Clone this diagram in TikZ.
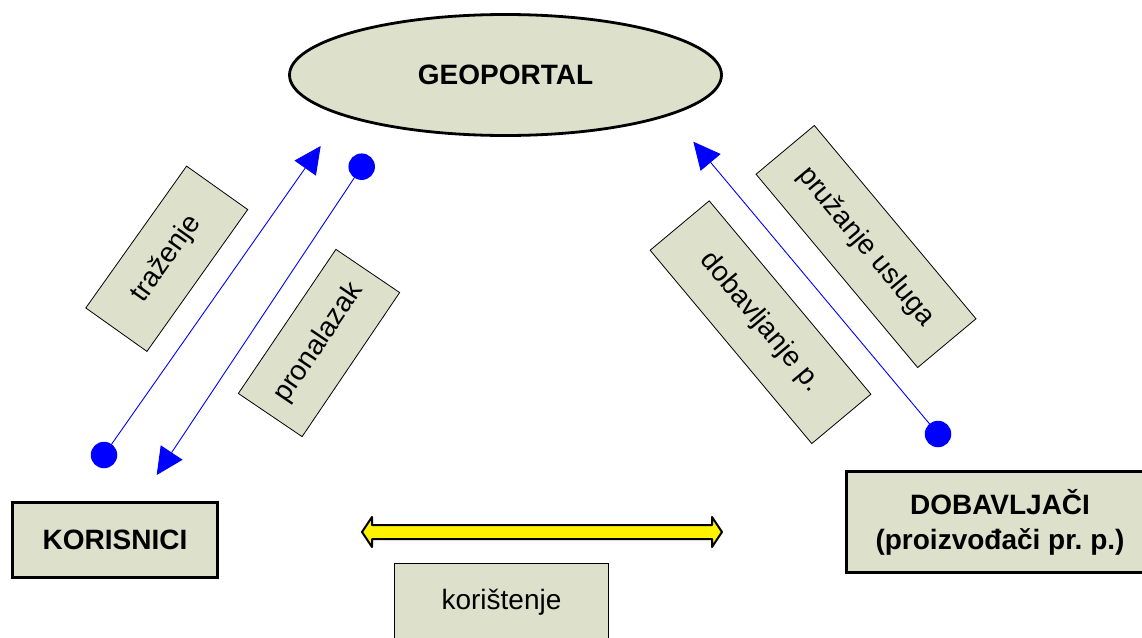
\documentclass[tikz,border=0pt]{standalone}
\usepackage{fontspec}
\setmainfont{Liberation Sans}
\usetikzlibrary{shapes.geometric,arrows.meta}
\definecolor{boxfill}{RGB}{221,224,203}
\frenchspacing
\begin{document}
\begin{tikzpicture}[x=1pt,y=-1pt,
  every node/.style={inner sep=0pt, outer sep=0pt},
  bigtxt/.style={font=\fontsize{28}{35}\selectfont\bfseries},
  lbltxt/.style={font=\fontsize{28}{34}\selectfont},
  mainbox/.style={draw=black, fill=boxfill, line width=2.8pt, bigtxt},
  tagbox/.style={draw=black, fill=boxfill, line width=0.8pt, lbltxt},
  flow/.style={draw=blue, line width=0.9pt, -{Triangle[length=27pt,width=26pt]}},
  dot/.style={circle, fill=blue, minimum size=26.5pt},
  usearrow/.style={draw=black, fill=yellow, line width=2pt, line join=round},
]
\clip (0,0) rectangle (1142,637);

% main actors
\node[mainbox, ellipse, minimum width=432pt, minimum height=121pt] (geo) at (505.5,75) {GEOPORTAL};
\node[mainbox, minimum width=205pt, minimum height=75pt] (kor) at (115,540) {KORISNICI};
\node[mainbox, minimum width=307pt, minimum height=101pt, align=center] (dob) at (1000,522) {DOBAVLJAČI\\(proizvođači pr. p.)};

% activity labels
\node[tagbox, rotate=54.6, minimum width=174pt, minimum height=75pt] (trz) at (166.75,258.75) {traženje};
\node[tagbox, rotate=55.9, minimum width=174pt, minimum height=77pt] (pro) at (319,343) {pronalazak};
\node[tagbox, rotate=-50.1, minimum width=252pt, minimum height=76pt] (pru) at (866,246.5) {pružanje usluga};
\node[tagbox, rotate=-50.1, minimum width=252pt, minimum height=77pt] (dbp) at (760.5,322.2) {dobavljanje p.};
\node[tagbox, minimum width=214pt, minimum height=77pt] (kori) at (501.5,602) {korištenje};

% search: users -> geoportal
\node[dot] (s1) at (104,455) {};
\coordinate (e1) at (320.7,146);
\draw[flow] (s1.center) -- (e1);

% discovery: geoportal -> users
\node[dot] (s2) at (361.7,166.7) {};
\coordinate (e2) at (156.7,475);
\draw[flow] (s2.center) -- (e2);

% supply: providers -> geoportal
\node[dot] (s3) at (938,434) {};
\coordinate (e3) at (693.3,141.7);
\draw[flow] (s3.center) -- (e3);

% usage: two-headed arrow between users and providers
\coordinate (ul) at (362,532);
\coordinate (ur) at (722,532);
\draw[usearrow] (ul) -- ++(10,-15) -- ++(0,8) -- ++(340,0) -- ++(0,-8) -- (ur)
  -- ++(-10,15) -- ++(0,-8) -- ++(-340,0) -- ++(0,8) -- cycle;
\end{tikzpicture}
\end{document}
